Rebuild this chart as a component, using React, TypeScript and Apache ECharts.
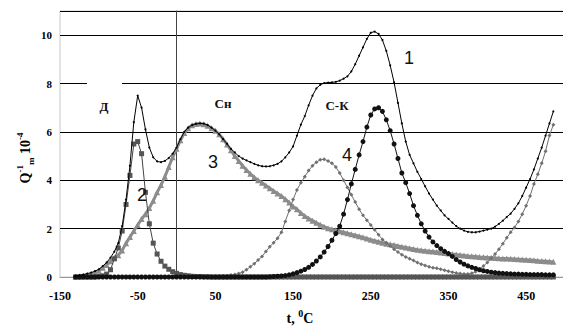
import React, { useEffect, useRef } from "react";
import * as echarts from "echarts";

// Temperatures (°C), sampled every 5 degrees
const temps: number[] = [
  -130, -125, -120, -115, -110, -105, -100, -95, -90, -85,
  -80, -75, -70, -65, -60, -55, -50, -45, -40, -35,
  -30, -25, -20, -15, -10, -5, 0, 5, 10, 15,
  20, 25, 30, 35, 40, 45, 50, 55, 60, 65,
  70, 75, 80, 85, 90, 95, 100, 105, 110, 115,
  120, 125, 130, 135, 140, 145, 150, 155, 160, 165,
  170, 175, 180, 185, 190, 195, 200, 205, 210, 215,
  220, 225, 230, 235, 240, 245, 250, 255, 260, 265,
  270, 275, 280, 285, 290, 295, 300, 305, 310, 315,
  320, 325, 330, 335, 340, 345, 350, 355, 360, 365,
  370, 375, 380, 385, 390, 395, 400, 405, 410, 415,
  420, 425, 430, 435, 440, 445, 450, 455, 460, 465,
  470, 475, 480, 485,
];

// Curve 1 (total)
const curve1: number[] = [
  0.05, 0.07, 0.1, 0.14, 0.18, 0.24, 0.32, 0.45, 0.6, 0.8,
  1.05, 1.4, 2.1, 3.2, 4.6, 6.4, 7.5, 7.0, 6.1, 5.35,
  4.95, 4.78, 4.75, 4.8, 4.92, 5.1, 5.35, 5.7, 6.0, 6.18,
  6.28, 6.33, 6.35, 6.34, 6.28, 6.18, 6.05, 5.9, 5.7, 5.5,
  5.3, 5.15, 5.0, 4.9, 4.82, 4.75, 4.68, 4.62, 4.58, 4.57,
  4.58, 4.62, 4.68, 4.78, 4.95, 5.15, 5.4, 5.85, 6.3, 6.65,
  7.1, 7.5, 7.8, 7.95, 8.02, 8.04, 8.05, 8.07, 8.12, 8.2,
  8.3, 8.5, 8.8, 9.15, 9.5, 9.85, 10.1, 10.15, 10.05, 9.8,
  9.35, 8.75, 8.05, 7.2, 6.35, 5.6, 5.05, 4.7, 4.35, 4.05,
  3.75, 3.45, 3.2, 2.95, 2.75, 2.55, 2.4, 2.25, 2.1, 2.0,
  1.92, 1.87, 1.85, 1.85, 1.88, 1.92, 1.96, 2.0, 2.08, 2.2,
  2.33, 2.48, 2.62, 2.82, 3.05, 3.35, 3.7, 4.05, 4.45, 4.9,
  5.35, 5.85, 6.35, 6.85,
];

// Curve 2 (Д peak)
const curve2: number[] = [
  0, 0, 0, 0, 0, 0, 0.02, 0.05, 0.12, 0.3,
  0.75, 1.2, 1.9, 3.0, 4.2, 5.5, 5.6, 5.1, 3.5, 2.2,
  1.4, 0.95, 0.65, 0.45, 0.32, 0.22, 0.15, 0.1, 0.07, 0.05,
  0.03, 0.02, 0.02, 0.01, 0.01, 0, 0, 0, 0, 0,
  0, 0, 0, 0, 0, 0, 0, 0, 0, 0,
  0, 0, 0, 0, 0, 0, 0, 0, 0, 0,
  0, 0, 0, 0, 0, 0, 0, 0, 0, 0,
  0, 0, 0, 0, 0, 0, 0, 0, 0, 0,
  0, 0, 0, 0, 0, 0, 0, 0, 0, 0,
  0, 0, 0, 0, 0, 0, 0, 0, 0, 0,
  0, 0, 0, 0, 0, 0, 0, 0, 0, 0,
  0, 0, 0, 0, 0, 0, 0, 0, 0, 0,
  0, 0, 0, 0,
];

// Curve 3 (Сн peak)
const curve3: number[] = [
  0.02, 0.03, 0.05, 0.08, 0.12, 0.18, 0.26, 0.38, 0.5, 0.65,
  0.8, 0.9, 1.1, 1.4, 1.65, 1.9, 2.15, 2.4, 2.6, 2.85,
  3.15, 3.5, 3.8, 4.15, 4.55, 4.95, 5.3, 5.65, 5.95, 6.15,
  6.28, 6.33, 6.35, 6.32, 6.25, 6.15, 6.05, 5.9, 5.7, 5.48,
  5.24, 5.0, 4.8, 4.6, 4.42, 4.27, 4.12, 4.0, 3.9, 3.78,
  3.67, 3.56, 3.45, 3.35, 3.22, 3.08, 2.92, 2.8, 2.65, 2.52,
  2.42, 2.33, 2.24, 2.16, 2.08, 2.02, 1.97, 1.93, 1.89, 1.85,
  1.81, 1.77, 1.73, 1.69, 1.64, 1.59, 1.54, 1.5, 1.46, 1.42,
  1.38, 1.35, 1.32, 1.28, 1.25, 1.22, 1.19, 1.16, 1.13, 1.11,
  1.09, 1.07, 1.05, 1.03, 1.01, 0.99, 0.97, 0.95, 0.93, 0.91,
  0.89, 0.87, 0.86, 0.85, 0.83, 0.82, 0.81, 0.8, 0.79, 0.78,
  0.77, 0.76, 0.75, 0.74, 0.73, 0.72, 0.71, 0.7, 0.69, 0.67,
  0.66, 0.65, 0.64, 0.63,
];

// Curve 4 (С-К peak, dots)
const curve4: number[] = [
  0, 0, 0, 0, 0, 0, 0, 0, 0, 0,
  0, 0, 0, 0, 0, 0, 0, 0, 0, 0,
  0, 0, 0, 0, 0, 0, 0, 0, 0, 0,
  0, 0, 0, 0, 0, 0, 0, 0, 0, 0,
  0, 0, 0, 0, 0, 0, 0, 0, 0, 0,
  0.01, 0.02, 0.03, 0.04, 0.06, 0.09, 0.13, 0.18, 0.24, 0.31,
  0.4, 0.52, 0.66, 0.83, 1.03, 1.26, 1.52, 1.8, 2.1, 2.6,
  3.2, 3.85, 4.45, 5.05, 5.6, 6.2, 6.7, 6.95, 7.0, 6.85,
  6.5, 6.05, 5.5, 4.9, 4.3, 3.9, 3.45, 2.95, 2.55, 2.2,
  1.9, 1.65, 1.45, 1.3, 1.17, 1.06, 0.97, 0.85, 0.72, 0.62,
  0.53, 0.46, 0.4, 0.35, 0.3, 0.26, 0.23, 0.2, 0.18, 0.16,
  0.15, 0.14, 0.13, 0.12, 0.12, 0.11, 0.11, 0.1, 0.1, 0.1,
  0.1, 0.09, 0.09, 0.09,
];

// Unnumbered curve (crosses)
const curve5: number[] = [
  0, 0, 0, 0, 0, 0, 0, 0, 0, 0,
  0, 0, 0, 0, 0, 0, 0, 0, 0, 0,
  0, 0, 0, 0, 0, 0, 0, 0, 0, 0,
  0, 0, 0, 0, 0.01, 0.01, 0.02, 0.03, 0.04, 0.05,
  0.08, 0.1, 0.14, 0.2, 0.3, 0.42, 0.55, 0.7, 0.85, 1.05,
  1.25, 1.42, 1.6, 1.85, 2.3, 2.75, 3.2, 3.6, 3.9, 4.15,
  4.4, 4.6, 4.75, 4.85, 4.87, 4.8, 4.7, 4.55, 4.3, 4.0,
  3.7, 3.4, 3.1, 2.8, 2.55, 2.35, 2.15, 1.95, 1.75, 1.55,
  1.42, 1.28, 1.15, 1.03, 0.92, 0.83, 0.75, 0.68, 0.6, 0.53,
  0.48, 0.42, 0.38, 0.36, 0.32, 0.28, 0.24, 0.2, 0.17, 0.14,
  0.12, 0.12, 0.15, 0.22, 0.32, 0.45, 0.6, 0.78, 0.95, 1.15,
  1.38, 1.62, 1.85, 2.05, 2.3, 2.6, 2.95, 3.35, 3.85, 4.25,
  4.7, 5.2, 5.85, 6.3,
];

const xLabelSteps: number[] = [-150, -50, 50, 150, 250, 350, 450];

const SERIF = "'Liberation Serif', 'Times New Roman', serif";
const SANS = "'Liberation Sans', Arial, sans-serif";

const pairs = (vals: number[]) => temps.map((t, i) => [t, vals[i]]);

export default function App() {
  const ref = useRef<HTMLDivElement>(null);
  useEffect(() => {
    if (!ref.current) return;
    const chart = echarts.init(ref.current, null, { renderer: "svg" });
    const annot = (text: string, x: number, y: number, font: string, size: number, weight: string) => ({
      type: "text",
      x,
      y,
      z: 10,
      style: {
        text,
        fontFamily: font,
        fontSize: size,
        fontWeight: weight,
        fill: "#111",
        align: "center",
        verticalAlign: "middle",
      },
    });
    const option: any = {
      animation: false,
      backgroundColor: "#fff",
      grid: {
        left: 60,
        top: 11,
        width: 505,
        height: 266,
        show: true,
        borderColor: "#c8c8c8",
        borderWidth: 1,
        outerBoundsMode: "none",
      },
      xAxis: {
        type: "value",
        min: -150,
        max: 500,
        interval: 50,
        axisLine: { show: true, lineStyle: { color: "#999", width: 1 } },
        axisTick: { show: false },
        splitLine: { show: false },
        axisLabel: {
          formatter: (v: number) => (xLabelSteps.indexOf(v) >= 0 ? String(v) : ""),
          fontFamily: SERIF,
          fontWeight: "bold",
          fontSize: 12,
          color: "#000",
          margin: 13,
        },
      },
      yAxis: {
        type: "value",
        min: 0,
        max: 11,
        interval: 2,
        axisLine: { show: true, onZero: true, lineStyle: { color: "#444", width: 1 } },
        axisTick: { show: false },
        splitLine: { show: true, lineStyle: { color: "#000", width: 1 } },
        axisLabel: {
          showMaxLabel: false,
          formatter: (v: number) => (v > 10 ? "" : String(v)),
          fontFamily: SERIF,
          fontWeight: "bold",
          fontSize: 11,
          color: "#000",
          margin: 8,
        },
      },
      graphic: [
        { type: "rect", z: 1, shape: { x: 87, y: 80, width: 35, height: 6 }, style: { fill: "#fff" } },
        annot("Д", 104, 106, SERIF, 13, "bold"),
        annot("Сн", 223, 103, SERIF, 13, "bold"),
        annot("С-К", 337, 105, SERIF, 13, "bold"),
        annot("1", 409, 58, SANS, 18, "normal"),
        annot("2", 142, 195, SANS, 18, "normal"),
        annot("3", 213, 162, SANS, 18, "normal"),
        annot("4", 347, 155, SANS, 18, "normal"),
        {
          type: "text",
          x: 300,
          y: 317,
          z: 10,
          style: {
            text: "{m|t, }{s|0}{m|C}",
            align: "center",
            verticalAlign: "middle",
            rich: {
              m: { fontFamily: SERIF, fontWeight: "bold", fontSize: 14, fill: "#000", lineHeight: 17, verticalAlign: "bottom" },
              s: { fontFamily: SERIF, fontWeight: "bold", fontSize: 10, fill: "#000", lineHeight: 17, verticalAlign: "top" },
            },
          },
        },
        {
          type: "text",
          x: 25,
          y: 158,
          rotation: Math.PI / 2,
          z: 10,
          style: {
            text: "{m|Q}{s|-1}{b|m}{m| 10}{s|-4}",
            align: "center",
            verticalAlign: "middle",
            rich: {
              m: { fontFamily: SERIF, fontWeight: "bold", fontSize: 14, fill: "#000", lineHeight: 20, verticalAlign: "middle" },
              s: { fontFamily: SERIF, fontWeight: "bold", fontSize: 9, fill: "#000", lineHeight: 20, verticalAlign: "top" },
              b: { fontFamily: SERIF, fontWeight: "bold", fontSize: 9, fill: "#000", lineHeight: 20, verticalAlign: "bottom" },
            },
          },
        },
      ],
      series: [
        {
          name: "3",
          type: "line",
          data: pairs(curve3),
          symbol: "triangle",
          symbolSize: 6,
          itemStyle: { color: "#8c8c8c" },
          lineStyle: { color: "#8c8c8c", width: 3 },
          z: 2,
        },
        {
          name: "5",
          type: "line",
          data: pairs(curve5),
          symbol: "diamond",
          symbolSize: 4,
          itemStyle: { color: "#707070" },
          lineStyle: { color: "#707070", width: 1 },
          z: 3,
        },
        {
          name: "2",
          type: "line",
          data: pairs(curve2),
          symbol: "rect",
          symbolSize: 5,
          itemStyle: { color: "#555" },
          lineStyle: { color: "#444", width: 1 },
          z: 4,
        },
        {
          name: "4",
          type: "line",
          data: pairs(curve4),
          symbol: "circle",
          symbolSize: 5,
          itemStyle: { color: "#111" },
          lineStyle: { color: "#111", width: 1 },
          z: 5,
        },
        {
          name: "1",
          type: "line",
          data: pairs(curve1),
          symbol: "circle",
          symbolSize: 2,
          itemStyle: { color: "#000" },
          lineStyle: { color: "#000", width: 1 },
          z: 6,
        },
      ],
    };
    chart.setOption(option);
    return () => chart.dispose();
  }, []);
  return (
    <div
      ref={ref}
      style={{ position: "fixed", left: 0, top: 0, width: 563, height: 326, background: "#fff" }}
    />
  );
}
